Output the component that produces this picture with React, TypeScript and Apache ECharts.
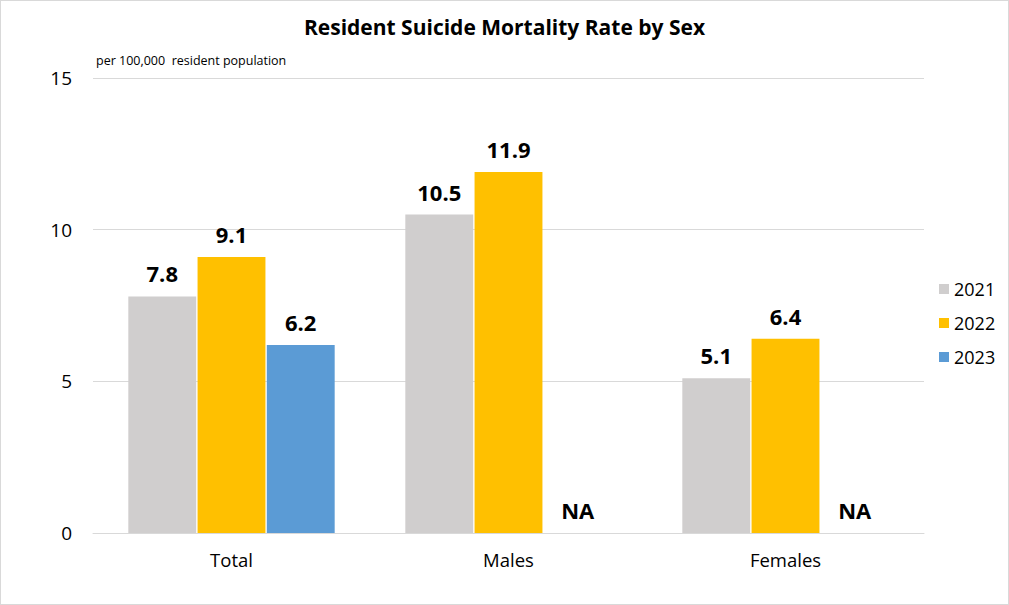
import React, { useEffect, useRef } from "react";
import * as echarts from "echarts";

const categories = ["Total", "Males", "Females"];
const values2021: (number | null)[] = [7.8, 10.5, 5.1];
const values2022: (number | null)[] = [9.1, 11.9, 6.4];
const values2023: (number | null)[] = [6.2, null, null];
const seriesNames = ["2021", "2022", "2023"];
const colors = ["#D0CECE", "#FFC000", "#5B9BD5"];
const yTicks = [0, 5, 10, 15];

const FONT = "'Open Sans', 'Noto Sans', sans-serif";

function toData(vals: (number | null)[]) {
  return vals.map((v) =>
    v === null
      ? { value: 0, label: { formatter: "NA" } }
      : { value: v }
  );
}

export default function App() {
  const ref = useRef<HTMLDivElement>(null);
  useEffect(() => {
    document.body.style.margin = "0";
    const chart = echarts.init(ref.current!, null, { renderer: "svg" });
    const all = [values2021, values2022, values2023];
    chart.setOption({
      animation: false,
      backgroundColor: "#ffffff",
      title: {
        text: "Resident Suicide Mortality Rate by Sex",
        left: "center",
        top: 10,
        textStyle: { fontFamily: FONT, fontSize: 21, fontWeight: "bold", color: "#000" },
      },
      graphic: [
        {
          type: "text",
          left: 95,
          top: 53,
          style: { text: "per 100,000  resident population", fontFamily: FONT, fontSize: 12.5, fill: "#000" },
        },
      ],
      legend: {
        orient: "vertical",
        left: 933,
        top: 274,
        itemWidth: 10,
        itemHeight: 10,
        itemGap: 16,
        icon: "rect",
        textStyle: { fontFamily: FONT, fontSize: 18, color: "#000" },
        data: seriesNames,
      },
      grid: { left: 92, right: 84, top: 77, bottom: 71 },
      xAxis: {
        type: "category",
        data: categories,
        axisTick: { show: false },
        axisLine: { lineStyle: { color: "#D9D9D9" } },
        axisLabel: { fontFamily: FONT, fontSize: 18.5, color: "#000", margin: 17 },
      },
      yAxis: {
        type: "value",
        min: yTicks[0],
        max: yTicks[yTicks.length - 1],
        interval: 5,
        axisLine: { show: false },
        axisTick: { show: false },
        splitLine: { lineStyle: { color: "#D9D9D9" } },
        axisLabel: { fontFamily: FONT, fontSize: 19, color: "#000", margin: 21 },
      },
      series: all.map((vals, i) => ({
        name: seriesNames[i],
        type: "bar",
        data: toData(vals),
        barGap: "2%",
        barCategoryGap: "25.5%",
        itemStyle: { color: colors[i] },
        label: {
          show: true,
          position: "top",
          distance: 12,
          fontFamily: FONT,
          fontSize: 22,
          fontWeight: "bold",
          color: "#000",
        },
      })),
    });
    return () => chart.dispose();
  }, []);
  return (
    <div
      ref={ref}
      style={{ width: 1009, height: 605, boxSizing: "border-box", border: "1px solid #D9D9D9" }}
    />
  );
}
